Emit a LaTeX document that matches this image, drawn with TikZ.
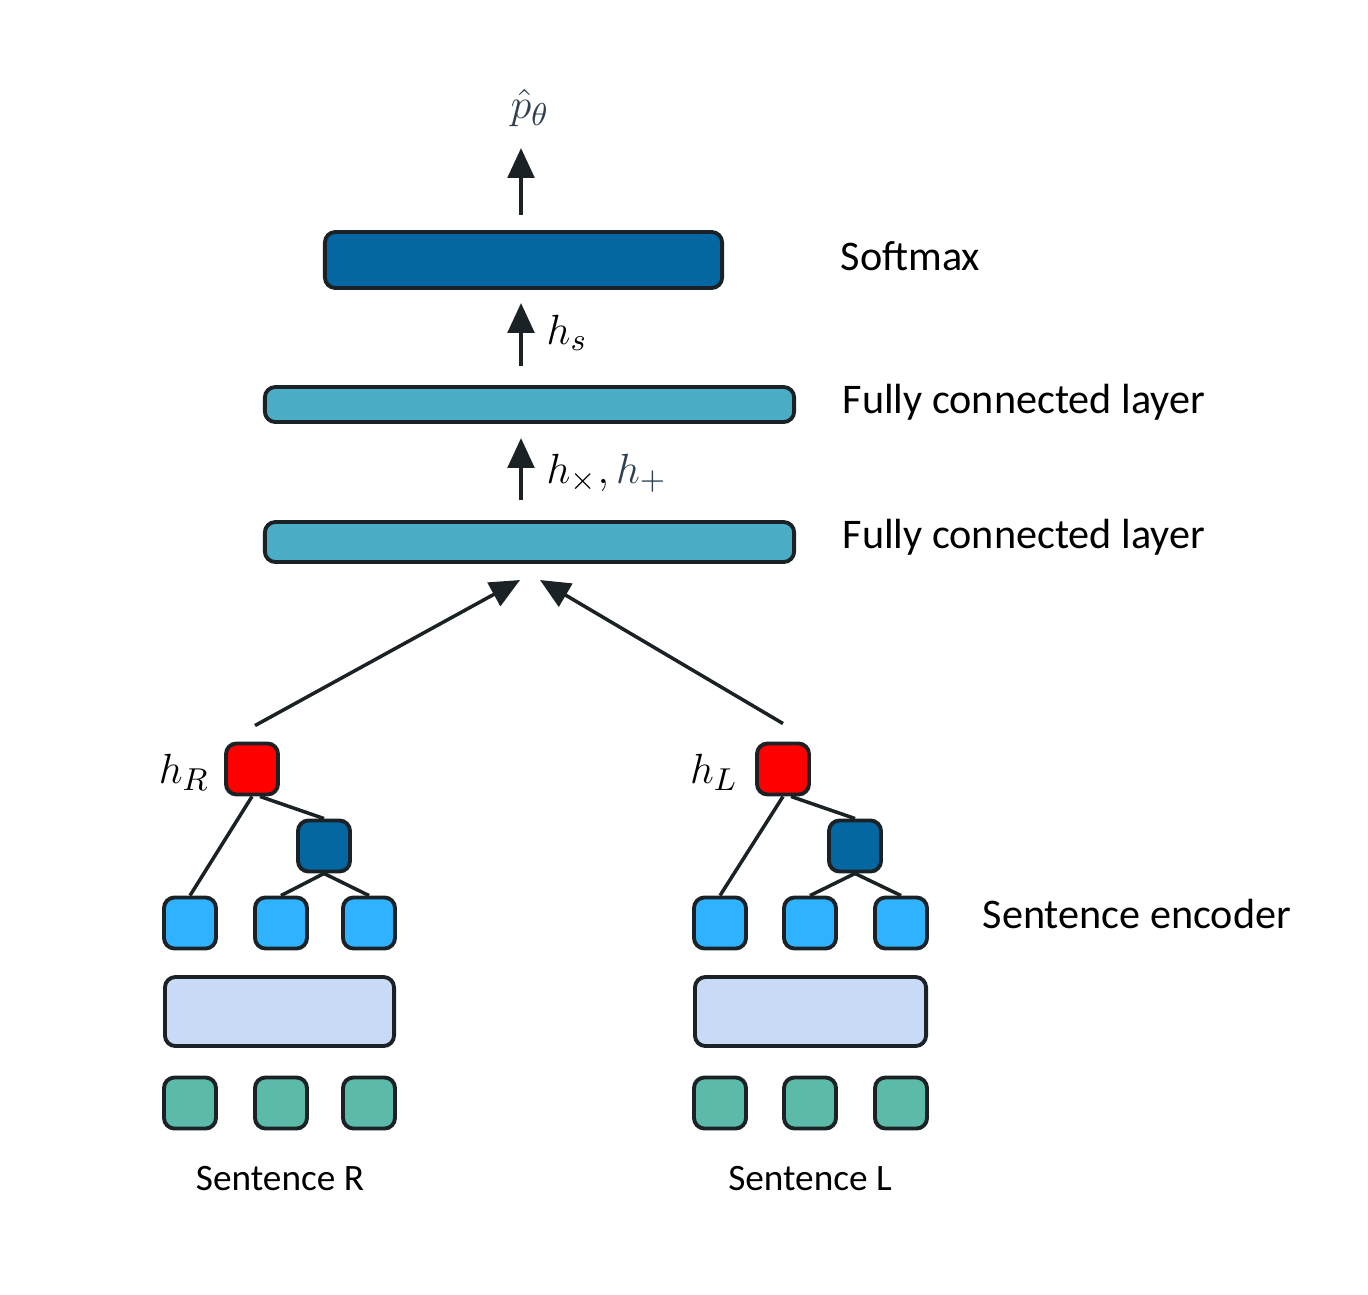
\documentclass[tikz,border=0pt]{standalone}
\usepackage{fontspec}
\setmainfont{Carlito}
\usetikzlibrary{arrows.meta, positioning}
\definecolor{edgeblack}{HTML}{1B2226}
\definecolor{softblue}{HTML}{0467A2}
\definecolor{fcblue}{HTML}{4BACC6}
\definecolor{leafblue}{HTML}{2FB2FF}
\definecolor{embedviolet}{HTML}{C9DAF7}
\definecolor{wordgreen}{HTML}{5BBAA8}
\definecolor{mathgray}{HTML}{2E4050}
\tikzset{
    box/.style = {draw=edgeblack, line width=1.1pt, rounded corners=3pt, inner sep=0pt},
    unit/.style = {box, minimum width=0.52cm, minimum height=0.51cm},
    up arrow/.style = {draw=edgeblack, line width=1.2pt, -{Triangle[length=8.5pt, width=7.5pt]}},
    tree edge/.style = {draw=edgeblack, line width=1pt},
}
\tikzset{
    caption/.style = {font=\fontsize{12}{14}\selectfont, inner sep=0pt, anchor=base west},
    sentence/.style = {font=\fontsize{10.6}{13}\selectfont, inner sep=0pt, anchor=base},
    mlabel/.style = {font=\fontsize{13}{15}\selectfont, inner sep=0pt},
}

\begin{document}
\begin{tikzpicture}[x=0.01cm, y=-0.01cm]
        \useasboundingbox (0,0) rectangle (1368,1294);

        \node[box, fill=softblue, minimum width=3.97cm, minimum height=0.56cm] (soft) at (523.5, 260) {};
        \node[box, fill=fcblue, minimum width=5.29cm, minimum height=0.35cm] (fc1) at (529.5, 404.5) {};
        \node[box, fill=fcblue, minimum width=5.29cm, minimum height=0.40cm] (fc2) at (529.5, 542) {};

        \node[caption] (tsoft) at (840, 270) {Softmax};
        \node[caption] (tfc1) at (842, 413) {Fully connected layer};
        \node[caption] (tfc2) at (842, 548) {Fully connected layer};
        \node[caption] (tenc) at (982, 928) {Sentence encoder};

        \coordinate (axis) at (521, 148);
        \node[mlabel, text=mathgray] (phat) at (530, 108) {$\hat{p}_\theta$};
        \node[mlabel, anchor=west] (hs) at (546, 333) {$h_s$};
        \node[mlabel, anchor=west] (hxp) at (546, 473) {$h_\times, {\color{mathgray}h_+}$};

        \draw[up arrow, shorten <=4.3pt] (soft.north -| axis) -- (axis);
        \draw[up arrow, shorten <=5.4pt, shorten >=3.7pt] (fc1.north -| axis) -- (soft.south -| axis);
        \draw[up arrow, shorten <=5.7pt, shorten >=4pt] (fc2.north -| axis) -- (fc1.south -| axis);

        % sentence R
        \node[unit, fill=red] (rR) at (252, 769) {};
        \node[unit, fill=softblue] (dR) at (324, 846) {};
        \node[unit, fill=leafblue] (lR1) at (190, 923) {};
        \node[unit, fill=leafblue] (lR2) at (281, 923) {};
        \node[unit, fill=leafblue] (lR3) at (369, 923) {};
        \node[box, fill=embedviolet, minimum width=2.29cm, minimum height=0.69cm] (eR) at (279.5, 1011.5) {};
        \node[unit, fill=wordgreen] (wR1) at (190, 1103) {};
        \node[unit, fill=wordgreen] (wR2) at (281, 1103) {};
        \node[unit, fill=wordgreen] (wR3) at (369, 1103) {};
        \node[mlabel] (hR) at (184, 772) {$h_R$};
        \node[sentence] (sR) at (280, 1190) {Sentence R};

        \draw[tree edge] (rR.south) -- (lR1.north);
        \draw[tree edge] ([xshift=0.08cm]rR.south) -- (dR.north);
        \draw[tree edge] (dR.south) -- (lR2.north);
        \draw[tree edge] (dR.south) -- (lR3.north);

        % sentence L
        \node[unit, fill=red] (rL) at (783, 769) {};
        \node[unit, fill=softblue] (dL) at (855, 846) {};
        \node[unit, fill=leafblue] (lL1) at (720, 923) {};
        \node[unit, fill=leafblue] (lL2) at (810, 923) {};
        \node[unit, fill=leafblue] (lL3) at (901, 923) {};
        \node[box, fill=embedviolet, minimum width=2.31cm, minimum height=0.69cm] (eL) at (810.5, 1011.5) {};
        \node[unit, fill=wordgreen] (wL1) at (720, 1103) {};
        \node[unit, fill=wordgreen] (wL2) at (810, 1103) {};
        \node[unit, fill=wordgreen] (wL3) at (901, 1103) {};
        \node[mlabel] (hL) at (714, 772) {$h_L$};
        \node[sentence] (sL) at (810, 1190) {Sentence L};

        \draw[tree edge] (rL.south) -- (lL1.north);
        \draw[tree edge] ([xshift=0.08cm]rL.south) -- (dL.north);
        \draw[tree edge] (dL.south) -- (lL2.north);
        \draw[tree edge] (dL.south) -- (lL3.north);

        \coordinate (joinR) at (520, 580);
        \coordinate (joinL) at (540, 580);
        \draw[up arrow, line width=1pt] ([xshift=0.03cm, yshift=0.16cm]rR.north) -- (joinR);
        \draw[up arrow, line width=1pt] ([yshift=0.18cm]rL.north) -- (joinL);
    \end{tikzpicture}
\end{document}
